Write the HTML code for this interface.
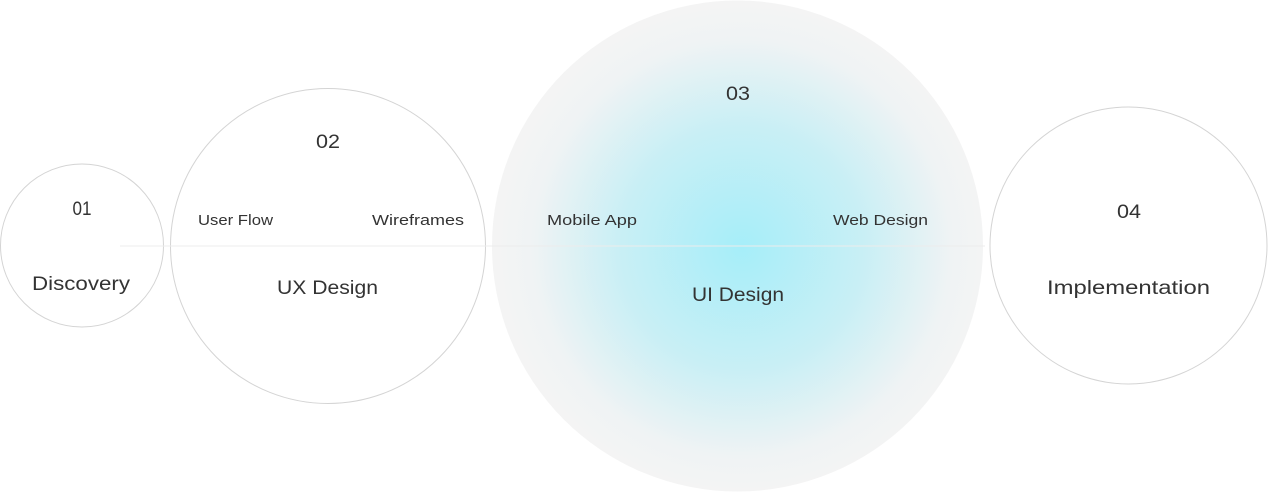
<!DOCTYPE html>
<html><head><meta charset="utf-8"><style>html,body{margin:0;padding:0;background:#fff}svg{display:block}text{font-family:"Liberation Sans",sans-serif;fill:#333}</style></head><body>
<svg width="1271" height="493" viewBox="0 0 1271 493" xmlns="http://www.w3.org/2000/svg">
<defs>
<radialGradient id="g" cx="742" cy="248" r="245" gradientUnits="userSpaceOnUse">
<stop offset="0" stop-color="#a6eef9"/>
<stop offset="0.5" stop-color="#c9eff5"/>
<stop offset="0.85" stop-color="#eff3f4"/>
<stop offset="1" stop-color="#f4f4f4"/>
</radialGradient>
</defs>
<circle cx="82" cy="245.5" r="81.5" fill="#fff" stroke="#d4d4d4" stroke-width="1"/>
<circle cx="328" cy="246" r="157.5" fill="#fff" stroke="#d4d4d4" stroke-width="1"/>
<circle cx="737.5" cy="246" r="245.5" fill="url(#g)"/>
<circle cx="1128.5" cy="245.5" r="138.5" fill="#fff" stroke="#d4d4d4" stroke-width="1"/>
<line x1="120" y1="246" x2="985" y2="246" stroke="#ececec" stroke-width="1"/>
<g font-size="19">
<text x="82" y="215" text-anchor="middle" textLength="19" lengthAdjust="spacingAndGlyphs">01</text>
<text x="81" y="290" text-anchor="middle" textLength="98" lengthAdjust="spacingAndGlyphs">Discovery</text>
<text x="328" y="148" text-anchor="middle" textLength="24" lengthAdjust="spacingAndGlyphs">02</text>
<text x="327.5" y="294" text-anchor="middle" textLength="101" lengthAdjust="spacingAndGlyphs">UX Design</text>
<text x="738" y="100" text-anchor="middle" textLength="24" lengthAdjust="spacingAndGlyphs">03</text>
<text x="738" y="301" text-anchor="middle" textLength="92" lengthAdjust="spacingAndGlyphs">UI Design</text>
<text x="1129" y="218" text-anchor="middle" textLength="24" lengthAdjust="spacingAndGlyphs">04</text>
<text x="1128.5" y="294" text-anchor="middle" textLength="163" lengthAdjust="spacingAndGlyphs">Implementation</text>
</g>
<g font-size="15">
<text x="198" y="225" textLength="75" lengthAdjust="spacingAndGlyphs">User Flow</text>
<text x="372" y="225" textLength="92" lengthAdjust="spacingAndGlyphs">Wireframes</text>
<text x="547" y="225" textLength="90" lengthAdjust="spacingAndGlyphs">Mobile App</text>
<text x="833" y="225" textLength="95" lengthAdjust="spacingAndGlyphs">Web Design</text>
</g>
</svg>
</body></html>
